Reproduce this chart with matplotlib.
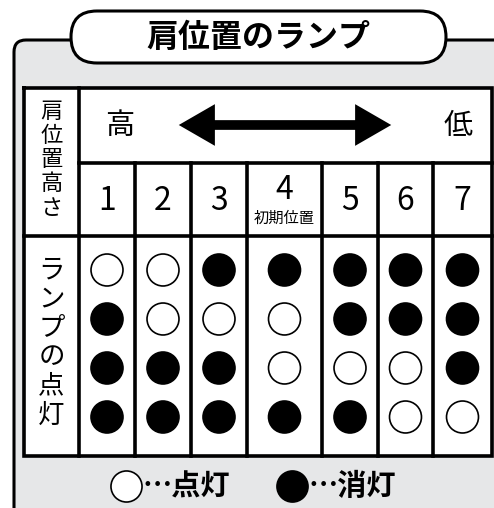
import matplotlib.pyplot as plt
import matplotlib.patches as mpatches

plt.rcParams['font.family'] = ['Noto Sans CJK JP', 'DejaVu Sans']

# data
title = '肩位置のランプ'
positions = ['1', '2', '3', '4', '5', '6', '7']
initial_pos = '4'
# 1 = 点灯 (open), 0 = 消灯 (filled); rows top to bottom
lamp_states = [
    [1, 1, 0, 0, 0, 0, 0],
    [0, 1, 1, 1, 0, 0, 0],
    [0, 0, 0, 1, 1, 1, 0],
    [0, 0, 0, 0, 0, 1, 1],
]

W, H = 494, 508
fig = plt.figure(figsize=(W / 100, H / 100), dpi=100)
ax = fig.add_axes([0, 0, 1, 1])
ax.set_xlim(0, W)
ax.set_ylim(H, 0)
ax.axis('off')

# grey panel
panel = mpatches.FancyBboxPatch((14, 40), 520, 520, boxstyle='round,pad=0,rounding_size=12',
                                fc='#e6e7e8', ec='black', lw=2.2)
ax.add_patch(panel)

# title pill
pill = mpatches.FancyBboxPatch((71, 11), 375, 52, boxstyle='round,pad=0,rounding_size=26',
                               fc='white', ec='black', lw=2.2)
ax.add_patch(pill)
ax.text(258, 38, title, ha='center', va='center', fontsize=23, fontweight='bold')

# table geometry
left, top, right = 24, 88, 492
col_edges = [79, 135, 191, 247, 322, 378, 433, right]
row1_bot, row2_bot, bottom = 163, 236, 456

ax.add_patch(mpatches.Rectangle((left, top), right - left, bottom - top, fc='white', ec='none'))
lw = 2.6
ax.plot([left, right, right, left, left], [top, top, bottom, bottom, top], color='black', lw=lw,
        solid_joinstyle='miter')
ax.plot([col_edges[0], col_edges[0]], [top, bottom], color='black', lw=lw)
for x in col_edges[1:-1]:
    ax.plot([x, x], [row1_bot, bottom], color='black', lw=lw)
ax.plot([col_edges[0], right], [row1_bot, row1_bot], color='black', lw=lw)
ax.plot([left, right], [row2_bot, row2_bot], color='black', lw=lw)

# left header column
label_x = (left + col_edges[0]) / 2
for i, ch in enumerate('肩位置高さ'):
    ax.text(label_x, 112 + i * 24, ch, ha='center', va='center', fontsize=16)
for i, ch in enumerate('ランプの点灯'):
    ax.text(label_x, 270 + i * 29, ch, ha='center', va='center', fontsize=19)

# 高 <-> 低
ax.text(120, 126, '高', ha='center', va='center', fontsize=21)
ax.text(458, 126, '低', ha='center', va='center', fontsize=21)
arrow = mpatches.FancyArrowPatch((176, 125), (394, 125),
                                 arrowstyle='<|-|>,head_length=1.3,head_width=0.75',
                                 mutation_scale=20, lw=0, fc='black', ec='black')
ax.add_patch(arrow)
ax.plot([195, 375], [125, 125], color='black', lw=7, solid_capstyle='butt')

# position numbers
centers = [(col_edges[i] + col_edges[i + 1]) / 2 for i in range(len(positions))]
for cx, p in zip(centers, positions):
    if p == initial_pos:
        ax.text(cx, 190, p, ha='center', va='center', fontsize=23)
        ax.text(cx, 218, '初期位置', ha='center', va='center', fontsize=11)
    else:
        ax.text(cx, 201, p, ha='center', va='center', fontsize=23)

# lamps
row_y = [270, 319, 368, 417]
for ry, states in zip(row_y, lamp_states):
    fc = ['white' if s else 'black' for s in states]
    ax.scatter(centers, [ry] * len(centers), s=530, c=fc, edgecolors='black',
               linewidths=1.2, zorder=3)

# legend
ax.scatter([126], [486], s=500, c='white', edgecolors='black', linewidths=1.2, zorder=3)
ax.text(142, 486, '…点灯', ha='left', va='center', fontsize=21, fontweight='bold')
ax.scatter([292], [486], s=500, c='black', edgecolors='black', linewidths=1.2, zorder=3)
ax.text(308, 486, '…消灯', ha='left', va='center', fontsize=21, fontweight='bold')

fig.savefig('out.png', dpi=100)
